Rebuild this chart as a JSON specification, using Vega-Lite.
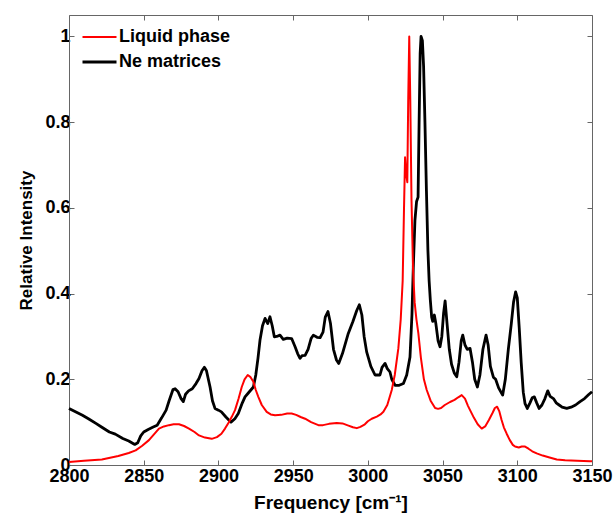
{
  "$schema": "https://vega.github.io/schema/vega-lite/v6.json",
  "width": 523,
  "height": 450,
  "autosize": {"type": "none"},
  "padding": {"left": 69, "top": 15, "right": 23, "bottom": 56},
  "background": "white",
  "config": {
    "view": {"stroke": null},
    "font": "Liberation Sans",
    "axis": {"grid": false, "domainColor": "#666666", "tickColor": "#666666", "labelFont": "Liberation Sans", "labelFontWeight": "bold", "labelFontSize": 18, "labelColor": "black", "titleFont": "Liberation Sans", "titleFontWeight": "bold", "titleColor": "black", "tickSize": -5}
  },
  "datasets": {
    "spectra": [
      {"f": 2800, "i": 0.132, "s": "Ne matrices"}, {"f": 2805, "i": 0.123, "s": "Ne matrices"}, {"f": 2809, "i": 0.116, "s": "Ne matrices"}, {"f": 2813, "i": 0.108, "s": "Ne matrices"}, {"f": 2818, "i": 0.097, "s": "Ne matrices"}, {"f": 2822, "i": 0.088, "s": "Ne matrices"}, {"f": 2827, "i": 0.077, "s": "Ne matrices"}, {"f": 2831, "i": 0.072, "s": "Ne matrices"}, {"f": 2836, "i": 0.062, "s": "Ne matrices"}, {"f": 2840, "i": 0.056, "s": "Ne matrices"}, {"f": 2844, "i": 0.048, "s": "Ne matrices"}, {"f": 2846, "i": 0.052, "s": "Ne matrices"}, {"f": 2848, "i": 0.068, "s": "Ne matrices"}, {"f": 2850, "i": 0.077, "s": "Ne matrices"}, {"f": 2853, "i": 0.083, "s": "Ne matrices"}, {"f": 2856, "i": 0.088, "s": "Ne matrices"}, {"f": 2859, "i": 0.093, "s": "Ne matrices"}, {"f": 2862, "i": 0.11, "s": "Ne matrices"}, {"f": 2865, "i": 0.128, "s": "Ne matrices"}, {"f": 2867, "i": 0.15, "s": "Ne matrices"}, {"f": 2869.6, "i": 0.176, "s": "Ne matrices"}, {"f": 2871, "i": 0.178, "s": "Ne matrices"}, {"f": 2873, "i": 0.171, "s": "Ne matrices"}, {"f": 2875, "i": 0.155, "s": "Ne matrices"}, {"f": 2876.5, "i": 0.148, "s": "Ne matrices"}, {"f": 2878, "i": 0.165, "s": "Ne matrices"}, {"f": 2880, "i": 0.173, "s": "Ne matrices"}, {"f": 2882.5, "i": 0.178, "s": "Ne matrices"}, {"f": 2885, "i": 0.19, "s": "Ne matrices"}, {"f": 2887, "i": 0.202, "s": "Ne matrices"}, {"f": 2889, "i": 0.22, "s": "Ne matrices"}, {"f": 2890.6, "i": 0.228, "s": "Ne matrices"}, {"f": 2892, "i": 0.22, "s": "Ne matrices"}, {"f": 2894.4, "i": 0.182, "s": "Ne matrices"}, {"f": 2896, "i": 0.15, "s": "Ne matrices"}, {"f": 2897.7, "i": 0.132, "s": "Ne matrices"}, {"f": 2900, "i": 0.128, "s": "Ne matrices"}, {"f": 2902, "i": 0.124, "s": "Ne matrices"}, {"f": 2905, "i": 0.112, "s": "Ne matrices"}, {"f": 2908.4, "i": 0.1, "s": "Ne matrices"}, {"f": 2911, "i": 0.108, "s": "Ne matrices"}, {"f": 2913.3, "i": 0.12, "s": "Ne matrices"}, {"f": 2916, "i": 0.145, "s": "Ne matrices"}, {"f": 2917.8, "i": 0.159, "s": "Ne matrices"}, {"f": 2920, "i": 0.168, "s": "Ne matrices"}, {"f": 2923.4, "i": 0.182, "s": "Ne matrices"}, {"f": 2925, "i": 0.21, "s": "Ne matrices"}, {"f": 2926.5, "i": 0.25, "s": "Ne matrices"}, {"f": 2927.8, "i": 0.291, "s": "Ne matrices"}, {"f": 2929.5, "i": 0.325, "s": "Ne matrices"}, {"f": 2931.2, "i": 0.342, "s": "Ne matrices"}, {"f": 2933, "i": 0.33, "s": "Ne matrices"}, {"f": 2934.5, "i": 0.346, "s": "Ne matrices"}, {"f": 2936, "i": 0.325, "s": "Ne matrices"}, {"f": 2937.4, "i": 0.299, "s": "Ne matrices"}, {"f": 2939, "i": 0.3, "s": "Ne matrices"}, {"f": 2941.2, "i": 0.303, "s": "Ne matrices"}, {"f": 2943.4, "i": 0.293, "s": "Ne matrices"}, {"f": 2946, "i": 0.296, "s": "Ne matrices"}, {"f": 2949, "i": 0.295, "s": "Ne matrices"}, {"f": 2951.3, "i": 0.276, "s": "Ne matrices"}, {"f": 2953, "i": 0.26, "s": "Ne matrices"}, {"f": 2954.6, "i": 0.249, "s": "Ne matrices"}, {"f": 2956, "i": 0.255, "s": "Ne matrices"}, {"f": 2958, "i": 0.256, "s": "Ne matrices"}, {"f": 2960, "i": 0.27, "s": "Ne matrices"}, {"f": 2962, "i": 0.295, "s": "Ne matrices"}, {"f": 2963.5, "i": 0.303, "s": "Ne matrices"}, {"f": 2966, "i": 0.298, "s": "Ne matrices"}, {"f": 2968, "i": 0.297, "s": "Ne matrices"}, {"f": 2970, "i": 0.31, "s": "Ne matrices"}, {"f": 2971.5, "i": 0.345, "s": "Ne matrices"}, {"f": 2973.3, "i": 0.358, "s": "Ne matrices"}, {"f": 2975, "i": 0.33, "s": "Ne matrices"}, {"f": 2977, "i": 0.27, "s": "Ne matrices"}, {"f": 2979, "i": 0.245, "s": "Ne matrices"}, {"f": 2980.5, "i": 0.237, "s": "Ne matrices"}, {"f": 2983, "i": 0.26, "s": "Ne matrices"}, {"f": 2986.9, "i": 0.307, "s": "Ne matrices"}, {"f": 2990, "i": 0.335, "s": "Ne matrices"}, {"f": 2992.5, "i": 0.36, "s": "Ne matrices"}, {"f": 2994.3, "i": 0.374, "s": "Ne matrices"}, {"f": 2996, "i": 0.35, "s": "Ne matrices"}, {"f": 2997.5, "i": 0.3, "s": "Ne matrices"}, {"f": 2999.2, "i": 0.264, "s": "Ne matrices"}, {"f": 3002, "i": 0.23, "s": "Ne matrices"}, {"f": 3004.8, "i": 0.21, "s": "Ne matrices"}, {"f": 3008.1, "i": 0.21, "s": "Ne matrices"}, {"f": 3009.5, "i": 0.228, "s": "Ne matrices"}, {"f": 3011.5, "i": 0.237, "s": "Ne matrices"}, {"f": 3013, "i": 0.225, "s": "Ne matrices"}, {"f": 3014.8, "i": 0.217, "s": "Ne matrices"}, {"f": 3016, "i": 0.2, "s": "Ne matrices"}, {"f": 3018.2, "i": 0.186, "s": "Ne matrices"}, {"f": 3021, "i": 0.186, "s": "Ne matrices"}, {"f": 3023.8, "i": 0.19, "s": "Ne matrices"}, {"f": 3026, "i": 0.21, "s": "Ne matrices"}, {"f": 3028.2, "i": 0.252, "s": "Ne matrices"}, {"f": 3029.5, "i": 0.35, "s": "Ne matrices"}, {"f": 3030.4, "i": 0.46, "s": "Ne matrices"}, {"f": 3031.5, "i": 0.57, "s": "Ne matrices"}, {"f": 3032.6, "i": 0.615, "s": "Ne matrices"}, {"f": 3033.6, "i": 0.625, "s": "Ne matrices"}, {"f": 3034.3, "i": 0.8, "s": "Ne matrices"}, {"f": 3035, "i": 0.96, "s": "Ne matrices"}, {"f": 3035.6, "i": 1.0, "s": "Ne matrices"}, {"f": 3036.5, "i": 0.99, "s": "Ne matrices"}, {"f": 3037.3, "i": 0.93, "s": "Ne matrices"}, {"f": 3038.2, "i": 0.8, "s": "Ne matrices"}, {"f": 3039.2, "i": 0.64, "s": "Ne matrices"}, {"f": 3040.2, "i": 0.5, "s": "Ne matrices"}, {"f": 3041, "i": 0.43, "s": "Ne matrices"}, {"f": 3041.8, "i": 0.385, "s": "Ne matrices"}, {"f": 3042.7, "i": 0.345, "s": "Ne matrices"}, {"f": 3043.4, "i": 0.335, "s": "Ne matrices"}, {"f": 3044.5, "i": 0.35, "s": "Ne matrices"}, {"f": 3045.5, "i": 0.33, "s": "Ne matrices"}, {"f": 3047, "i": 0.29, "s": "Ne matrices"}, {"f": 3048.3, "i": 0.276, "s": "Ne matrices"}, {"f": 3049.5, "i": 0.3, "s": "Ne matrices"}, {"f": 3050.7, "i": 0.355, "s": "Ne matrices"}, {"f": 3051.7, "i": 0.383, "s": "Ne matrices"}, {"f": 3053, "i": 0.33, "s": "Ne matrices"}, {"f": 3054.5, "i": 0.27, "s": "Ne matrices"}, {"f": 3056, "i": 0.235, "s": "Ne matrices"}, {"f": 3057.8, "i": 0.215, "s": "Ne matrices"}, {"f": 3059.5, "i": 0.206, "s": "Ne matrices"}, {"f": 3061, "i": 0.24, "s": "Ne matrices"}, {"f": 3062.5, "i": 0.29, "s": "Ne matrices"}, {"f": 3063.5, "i": 0.303, "s": "Ne matrices"}, {"f": 3065, "i": 0.28, "s": "Ne matrices"}, {"f": 3066.5, "i": 0.27, "s": "Ne matrices"}, {"f": 3068.4, "i": 0.272, "s": "Ne matrices"}, {"f": 3070, "i": 0.24, "s": "Ne matrices"}, {"f": 3071.5, "i": 0.2, "s": "Ne matrices"}, {"f": 3073.3, "i": 0.182, "s": "Ne matrices"}, {"f": 3075, "i": 0.21, "s": "Ne matrices"}, {"f": 3077, "i": 0.27, "s": "Ne matrices"}, {"f": 3079.1, "i": 0.303, "s": "Ne matrices"}, {"f": 3080.5, "i": 0.28, "s": "Ne matrices"}, {"f": 3082, "i": 0.23, "s": "Ne matrices"}, {"f": 3084, "i": 0.205, "s": "Ne matrices"}, {"f": 3085.5, "i": 0.2, "s": "Ne matrices"}, {"f": 3087.5, "i": 0.18, "s": "Ne matrices"}, {"f": 3090.2, "i": 0.163, "s": "Ne matrices"}, {"f": 3092, "i": 0.2, "s": "Ne matrices"}, {"f": 3094, "i": 0.27, "s": "Ne matrices"}, {"f": 3096, "i": 0.33, "s": "Ne matrices"}, {"f": 3097.5, "i": 0.38, "s": "Ne matrices"}, {"f": 3098.9, "i": 0.404, "s": "Ne matrices"}, {"f": 3100, "i": 0.39, "s": "Ne matrices"}, {"f": 3101.3, "i": 0.32, "s": "Ne matrices"}, {"f": 3102.6, "i": 0.24, "s": "Ne matrices"}, {"f": 3104, "i": 0.17, "s": "Ne matrices"}, {"f": 3105.2, "i": 0.143, "s": "Ne matrices"}, {"f": 3106.7, "i": 0.132, "s": "Ne matrices"}, {"f": 3108.5, "i": 0.145, "s": "Ne matrices"}, {"f": 3110, "i": 0.157, "s": "Ne matrices"}, {"f": 3111.4, "i": 0.159, "s": "Ne matrices"}, {"f": 3113, "i": 0.145, "s": "Ne matrices"}, {"f": 3114.6, "i": 0.132, "s": "Ne matrices"}, {"f": 3116.5, "i": 0.14, "s": "Ne matrices"}, {"f": 3118.5, "i": 0.155, "s": "Ne matrices"}, {"f": 3120.4, "i": 0.173, "s": "Ne matrices"}, {"f": 3122, "i": 0.16, "s": "Ne matrices"}, {"f": 3124.2, "i": 0.155, "s": "Ne matrices"}, {"f": 3126, "i": 0.145, "s": "Ne matrices"}, {"f": 3128, "i": 0.14, "s": "Ne matrices"}, {"f": 3130, "i": 0.135, "s": "Ne matrices"}, {"f": 3133.1, "i": 0.132, "s": "Ne matrices"}, {"f": 3136, "i": 0.135, "s": "Ne matrices"}, {"f": 3139, "i": 0.14, "s": "Ne matrices"}, {"f": 3142, "i": 0.148, "s": "Ne matrices"}, {"f": 3145, "i": 0.155, "s": "Ne matrices"}, {"f": 3148, "i": 0.165, "s": "Ne matrices"}, {"f": 3150, "i": 0.171, "s": "Ne matrices"},
      {"f": 2800, "i": 0.007, "s": "Liquid phase"}, {"f": 2810, "i": 0.01, "s": "Liquid phase"}, {"f": 2822, "i": 0.013, "s": "Liquid phase"}, {"f": 2833, "i": 0.021, "s": "Liquid phase"}, {"f": 2840, "i": 0.028, "s": "Liquid phase"}, {"f": 2844.6, "i": 0.034, "s": "Liquid phase"}, {"f": 2849, "i": 0.045, "s": "Liquid phase"}, {"f": 2853.5, "i": 0.058, "s": "Liquid phase"}, {"f": 2857, "i": 0.072, "s": "Liquid phase"}, {"f": 2860.2, "i": 0.085, "s": "Liquid phase"}, {"f": 2863.5, "i": 0.09, "s": "Liquid phase"}, {"f": 2866.9, "i": 0.093, "s": "Liquid phase"}, {"f": 2870, "i": 0.095, "s": "Liquid phase"}, {"f": 2873.6, "i": 0.095, "s": "Liquid phase"}, {"f": 2877, "i": 0.091, "s": "Liquid phase"}, {"f": 2880.3, "i": 0.085, "s": "Liquid phase"}, {"f": 2884, "i": 0.077, "s": "Liquid phase"}, {"f": 2887, "i": 0.069, "s": "Liquid phase"}, {"f": 2891, "i": 0.064, "s": "Liquid phase"}, {"f": 2895.5, "i": 0.061, "s": "Liquid phase"}, {"f": 2899, "i": 0.065, "s": "Liquid phase"}, {"f": 2902, "i": 0.073, "s": "Liquid phase"}, {"f": 2904.4, "i": 0.085, "s": "Liquid phase"}, {"f": 2907, "i": 0.1, "s": "Liquid phase"}, {"f": 2909, "i": 0.113, "s": "Liquid phase"}, {"f": 2911.1, "i": 0.128, "s": "Liquid phase"}, {"f": 2913.5, "i": 0.155, "s": "Liquid phase"}, {"f": 2915.6, "i": 0.182, "s": "Liquid phase"}, {"f": 2917.5, "i": 0.2, "s": "Liquid phase"}, {"f": 2919.6, "i": 0.21, "s": "Liquid phase"}, {"f": 2921.5, "i": 0.205, "s": "Liquid phase"}, {"f": 2923.4, "i": 0.194, "s": "Liquid phase"}, {"f": 2925, "i": 0.175, "s": "Liquid phase"}, {"f": 2926.7, "i": 0.159, "s": "Liquid phase"}, {"f": 2929, "i": 0.14, "s": "Liquid phase"}, {"f": 2932.3, "i": 0.124, "s": "Liquid phase"}, {"f": 2935, "i": 0.118, "s": "Liquid phase"}, {"f": 2937.9, "i": 0.116, "s": "Liquid phase"}, {"f": 2942, "i": 0.117, "s": "Liquid phase"}, {"f": 2946, "i": 0.12, "s": "Liquid phase"}, {"f": 2949, "i": 0.12, "s": "Liquid phase"}, {"f": 2952, "i": 0.117, "s": "Liquid phase"}, {"f": 2955, "i": 0.112, "s": "Liquid phase"}, {"f": 2958, "i": 0.108, "s": "Liquid phase"}, {"f": 2962, "i": 0.1, "s": "Liquid phase"}, {"f": 2966.9, "i": 0.093, "s": "Liquid phase"}, {"f": 2970, "i": 0.093, "s": "Liquid phase"}, {"f": 2974, "i": 0.096, "s": "Liquid phase"}, {"f": 2979.2, "i": 0.098, "s": "Liquid phase"}, {"f": 2983, "i": 0.097, "s": "Liquid phase"}, {"f": 2987, "i": 0.092, "s": "Liquid phase"}, {"f": 2990, "i": 0.088, "s": "Liquid phase"}, {"f": 2992.6, "i": 0.086, "s": "Liquid phase"}, {"f": 2995, "i": 0.089, "s": "Liquid phase"}, {"f": 2998, "i": 0.095, "s": "Liquid phase"}, {"f": 3000, "i": 0.102, "s": "Liquid phase"}, {"f": 3002.6, "i": 0.108, "s": "Liquid phase"}, {"f": 3006, "i": 0.113, "s": "Liquid phase"}, {"f": 3008.5, "i": 0.118, "s": "Liquid phase"}, {"f": 3010.4, "i": 0.124, "s": "Liquid phase"}, {"f": 3013, "i": 0.14, "s": "Liquid phase"}, {"f": 3016, "i": 0.175, "s": "Liquid phase"}, {"f": 3018, "i": 0.21, "s": "Liquid phase"}, {"f": 3020.4, "i": 0.272, "s": "Liquid phase"}, {"f": 3022, "i": 0.34, "s": "Liquid phase"}, {"f": 3023.3, "i": 0.43, "s": "Liquid phase"}, {"f": 3024.2, "i": 0.6, "s": "Liquid phase"}, {"f": 3024.9, "i": 0.718, "s": "Liquid phase"}, {"f": 3025.6, "i": 0.68, "s": "Liquid phase"}, {"f": 3026.4, "i": 0.66, "s": "Liquid phase"}, {"f": 3027, "i": 0.85, "s": "Liquid phase"}, {"f": 3027.7, "i": 1.0, "s": "Liquid phase"}, {"f": 3028.4, "i": 0.85, "s": "Liquid phase"}, {"f": 3029.2, "i": 0.62, "s": "Liquid phase"}, {"f": 3030.2, "i": 0.46, "s": "Liquid phase"}, {"f": 3031.3, "i": 0.38, "s": "Liquid phase"}, {"f": 3032.5, "i": 0.34, "s": "Liquid phase"}, {"f": 3033.8, "i": 0.307, "s": "Liquid phase"}, {"f": 3035.5, "i": 0.25, "s": "Liquid phase"}, {"f": 3037.5, "i": 0.2, "s": "Liquid phase"}, {"f": 3039.4, "i": 0.175, "s": "Liquid phase"}, {"f": 3042, "i": 0.15, "s": "Liquid phase"}, {"f": 3045, "i": 0.133, "s": "Liquid phase"}, {"f": 3047, "i": 0.131, "s": "Liquid phase"}, {"f": 3049, "i": 0.133, "s": "Liquid phase"}, {"f": 3051.5, "i": 0.14, "s": "Liquid phase"}, {"f": 3055, "i": 0.147, "s": "Liquid phase"}, {"f": 3058, "i": 0.152, "s": "Liquid phase"}, {"f": 3060.5, "i": 0.158, "s": "Liquid phase"}, {"f": 3062.8, "i": 0.163, "s": "Liquid phase"}, {"f": 3065, "i": 0.155, "s": "Liquid phase"}, {"f": 3067, "i": 0.138, "s": "Liquid phase"}, {"f": 3068.4, "i": 0.128, "s": "Liquid phase"}, {"f": 3071, "i": 0.11, "s": "Liquid phase"}, {"f": 3073.5, "i": 0.095, "s": "Liquid phase"}, {"f": 3076.2, "i": 0.085, "s": "Liquid phase"}, {"f": 3078.5, "i": 0.09, "s": "Liquid phase"}, {"f": 3081, "i": 0.105, "s": "Liquid phase"}, {"f": 3083.5, "i": 0.122, "s": "Liquid phase"}, {"f": 3085, "i": 0.133, "s": "Liquid phase"}, {"f": 3086.5, "i": 0.136, "s": "Liquid phase"}, {"f": 3088, "i": 0.125, "s": "Liquid phase"}, {"f": 3089.5, "i": 0.105, "s": "Liquid phase"}, {"f": 3091, "i": 0.088, "s": "Liquid phase"}, {"f": 3092.9, "i": 0.073, "s": "Liquid phase"}, {"f": 3095, "i": 0.058, "s": "Liquid phase"}, {"f": 3097, "i": 0.047, "s": "Liquid phase"}, {"f": 3098.5, "i": 0.043, "s": "Liquid phase"}, {"f": 3101, "i": 0.041, "s": "Liquid phase"}, {"f": 3103, "i": 0.043, "s": "Liquid phase"}, {"f": 3105.2, "i": 0.043, "s": "Liquid phase"}, {"f": 3107.5, "i": 0.038, "s": "Liquid phase"}, {"f": 3110, "i": 0.032, "s": "Liquid phase"}, {"f": 3113, "i": 0.027, "s": "Liquid phase"}, {"f": 3117, "i": 0.022, "s": "Liquid phase"}, {"f": 3121, "i": 0.018, "s": "Liquid phase"}, {"f": 3126.4, "i": 0.013, "s": "Liquid phase"}, {"f": 3132, "i": 0.011, "s": "Liquid phase"}, {"f": 3140, "i": 0.01, "s": "Liquid phase"}, {"f": 3148.7, "i": 0.009, "s": "Liquid phase"}, {"f": 3150, "i": 0.009, "s": "Liquid phase"}
    ]
  },
  "data": {"name": "spectra"},
  "layer": [
    {
      "mark": {"type": "line", "opacity": 0},
      "encoding": {
        "x": {"field": "f", "type": "quantitative", "scale": {"domain": [2800, 3150], "nice": false, "zero": false}, "axis": {"orient": "top", "labels": false, "title": null, "values": [2800, 2850, 2900, 2950, 3000, 3050, 3100, 3150]}},
        "y": {"field": "i", "type": "quantitative", "scale": {"domain": [0, 1.05], "nice": false}, "axis": {"orient": "right", "labels": false, "title": null, "values": [0, 0.2, 0.4, 0.6, 0.8, 1]}},
        "detail": {"field": "s"}
      }
    },
    {
      "mark": {"type": "line", "strokeJoin": "round"},
      "encoding": {
        "x": {"field": "f", "type": "quantitative", "scale": {"domain": [2800, 3150], "nice": false, "zero": false}, "axis": {"orient": "bottom", "title": "Frequency [cm⁻¹]", "titleFontSize": 19, "titlePadding": 8, "labelPadding": 7, "values": [2800, 2850, 2900, 2950, 3000, 3050, 3100, 3150], "format": "d", "labelFlush": false, "labelOverlap": false}},
        "y": {"field": "i", "type": "quantitative", "scale": {"domain": [0, 1.05], "nice": false}, "axis": {"orient": "left", "title": "Relative Intensity", "titleFontSize": 17, "titlePadding": 9, "labelPadding": 4, "values": [0, 0.2, 0.4, 0.6, 0.8, 1], "format": "~g", "labelFlush": false}},
        "color": {"field": "s", "type": "nominal", "scale": {"domain": ["Liquid phase", "Ne matrices"], "range": ["#ff0000", "#000000"]}, "legend": {"orient": "none", "legendX": 12, "legendY": 9.5, "title": null, "padding": 0, "symbolType": "stroke", "symbolSize": 1156, "symbolStrokeWidth": 2.5, "labelFontSize": 18, "labelFontWeight": "bold", "labelFont": "Liberation Sans", "labelColor": "black", "labelOffset": 1, "rowPadding": 0, "clipHeight": 25}},
        "strokeWidth": {"field": "s", "type": "nominal", "scale": {"domain": ["Liquid phase", "Ne matrices"], "range": [2, 2.8]}, "legend": null}
      }
    }
  ],
  "resolve": {"axis": {"x": "independent", "y": "independent"}}
}
